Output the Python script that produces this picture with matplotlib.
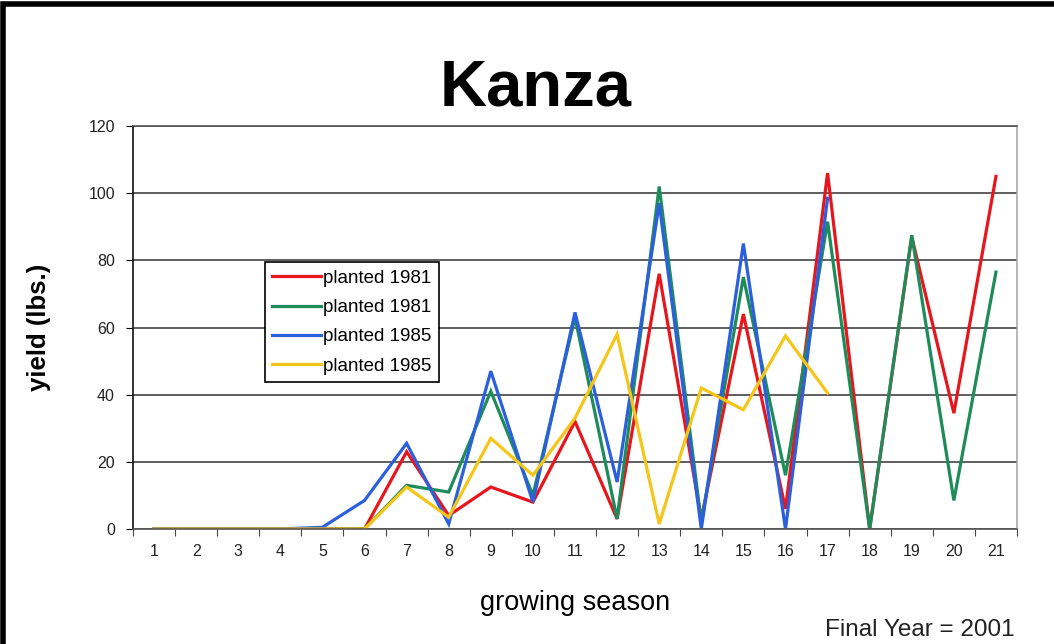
import numpy as np
import matplotlib.pyplot as plt
from matplotlib.patches import Rectangle

seasons = list(range(1, 22))

red_1981 = [0, 0, 0, 0, 0, 0, 23, 4, 12.5, 8, 32, 3, 76, 3, 64, 6, 106, 0, 87, 34.5, 105]
green_1981 = [0, 0, 0, 0, 0, 0, 13, 11, 41, 10, 63, 3, 102, 2, 75, 16, 91.5, 0, 87.5, 8.5, 76.5]
blue_1985 = [0, 0, 0, 0, 0.5, 8.5, 25.5, 1.5, 47, 8, 64.5, 14, 97, 0, 85, 0, 98.5]
yellow_1985 = [0, 0, 0, 0, 0, 0, 12.5, 3.5, 27, 16, 33, 58, 1.5, 42, 35.5, 57.5, 40.5]

labels = ['planted 1981', 'planted 1981', 'planted 1985', 'planted 1985']
colors = ['#e8161c', '#1e8c5a', '#2b5fde', '#f5c518']

plt.rcParams['font.family'] = ['Liberation Sans', 'DejaVu Sans']

fig = plt.figure(figsize=(10.54, 6.44), dpi=100)
ax = fig.add_axes([0.1262, 0.1786, 0.8387, 0.6257])

series = [red_1981, green_1981, blue_1985, yellow_1985]
for vals, lab, col in zip(series, labels, colors):
    ax.plot(seasons[:len(vals)], vals, color=col, lw=2.3, label=lab, solid_joinstyle='miter')

ax.set_xlim(0.5, 21.5)
ax.set_ylim(0, 120)
ax.set_yticks(np.arange(0, 121, 20))
ax.yaxis.grid(True, color='#333333', lw=1.1)
ax.set_axisbelow(True)

# category ticks sit between the seasons, labels in the middle
ax.set_xticks(np.arange(0.5, 22, 1))
ax.set_xticklabels([])
ax.set_xticks(seasons, minor=True)
ax.set_xticklabels([str(s) for s in seasons], minor=True)
ax.tick_params(axis='x', which='minor', length=0, pad=11, labelsize=11.5, labelcolor='#222222')
ax.tick_params(axis='x', which='major', length=5, color='#444444', direction='out')
ax.tick_params(axis='y', length=5, labelsize=11.5, labelcolor='#222222', pad=8)

ax.spines['left'].set_color('#111111')
ax.spines['bottom'].set_color('#555555')
ax.spines['top'].set_color('#555555')
ax.spines['right'].set_color('#aaaaaa')
for s in ax.spines.values():
    s.set_linewidth(1.2)

ax.set_ylabel('yield (lbs.)', fontsize=18.5, fontweight='bold')
ax.yaxis.set_label_coords(-0.093, 0.5)
ax.set_xlabel('growing season', fontsize=19.5)
ax.xaxis.set_label_coords(0.5, -0.152)

fig.text(0.508, 0.862, 'Kanza', ha='center', va='center', fontsize=47, fontweight='bold')
fig.text(0.963, 0.021, 'Final Year = 2001', ha='right', va='center', fontsize=17.5,
         color='#222222')

leg = ax.legend(loc='upper left', bbox_to_anchor=(0.149, 0.662), fontsize=13.5,
                frameon=True, fancybox=False, edgecolor='black', framealpha=1,
                handlelength=2.6, handletextpad=0.1, labelspacing=0.65,
                borderpad=0.4, borderaxespad=0)
leg.get_frame().set_linewidth(1.2)

# outer frame of the original slide (left and top edges only visible)
fig.patches.append(Rectangle((0.003, -0.1), 1.2, 1.094, transform=fig.transFigure,
                             fill=False, edgecolor='black', lw=4, zorder=10))

fig.savefig('out.png', dpi=100)
